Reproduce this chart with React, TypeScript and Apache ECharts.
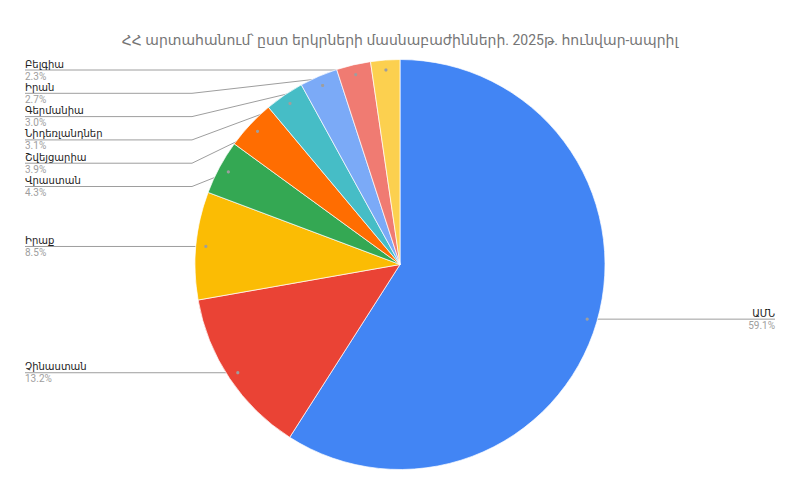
import { useEffect, useRef } from "react"
import * as echarts from "echarts"

const chartTitle = "ՀՀ արտահանում՝ ըստ երկրների մասնաբաժինների. 2025թ. հունվար-ապրիլ"
const countries = ["ԱՄՆ", "Չինաստան", "Իրաք", "Վրաստան", "Շվեյցարիա", "Նիդեռլանդներ", "Գերմանիա", "Իրան", "Բելգիա"]
const shares = [59.1, 13.2, 8.5, 4.3, 3.9, 3.1, 3.0, 2.7, 2.3]
const colors = ["#4285f4", "#ea4335", "#fbbc04", "#34a853", "#ff6d01", "#46bdc6", "#7baaf7", "#f07b72", "#fcd04f"]

const W = 800
const H = 495
const CX = 400
const CY = 264.5
const R = 205
const DOT_R = 195
const EDGE = 25
const ROW = 23.3
const FONT = "Roboto, 'Noto Sans', 'DejaVu Sans', sans-serif"

type Spot = { left: boolean; dot: number[]; y: number }

// where each slice's label goes: dot inside the slice, labels stacked per side
function labelSpots(): Spot[] {
  const total = shares.reduce((a, b) => a + b, 0)
  let acc = 0
  const spots = shares.map((v) => {
    const mid = ((acc + v / 2) / total) * Math.PI * 2
    acc += v
    const dx = Math.sin(mid)
    const dy = -Math.cos(mid)
    const dot = [CX + DOT_R * dx, CY + DOT_R * dy]
    return { left: dx < 0, dot, y: dot[1] }
  })
  for (const side of [true, false]) {
    const list = spots.filter((s) => s.left === side).sort((a, b) => a.dot[1] - b.dot[1])
    let prev = -Infinity
    for (const s of list) {
      s.y = Math.max(s.dot[1], prev + ROW)
      prev = s.y
    }
  }
  return spots
}

export default function App() {
  const hostRef = useRef<HTMLDivElement>(null)

  useEffect(() => {
    document.body.style.margin = "0"
    const el = hostRef.current
    if (!el) return
    const chart = echarts.init(el, undefined, { renderer: "svg" })
    const spots = labelSpots()

    chart.setOption({
      animation: false,
      backgroundColor: "#ffffff",
      textStyle: { fontFamily: FONT },
      title: {
        text: chartTitle,
        left: "center",
        top: 28,
        textStyle: { fontSize: 14, fontWeight: "normal", color: "#757575", fontFamily: FONT },
      },
      graphic: spots.map((s) => ({
        type: "circle",
        silent: true,
        z: 100,
        shape: { cx: s.dot[0], cy: s.dot[1], r: 1.6 },
        style: { fill: "#9e9e9e" },
      })),
      series: [
        {
          type: "pie",
          center: [CX, CY],
          radius: [0, R],
          startAngle: 90,
          clockwise: true,
          color: colors,
          itemStyle: { borderColor: "#ffffff", borderWidth: 0.7 },
          data: countries.map((name, i) => ({ name, value: shares[i] })),
          label: {
            show: true,
            position: "outside",
            formatter: (p: any) => `{n|${p.name}}\n{p|${Number(p.value).toFixed(1)}%}`,
            rich: {
              n: { fontSize: 10, color: "#222222", lineHeight: 12, fontFamily: FONT },
              p: { fontSize: 10, color: "#9e9e9e", lineHeight: 12, fontFamily: FONT },
            },
          },
          labelLine: { show: true, lineStyle: { color: "#9e9e9e", width: 1 } },
          labelLayout: (params: any) => {
            const s = spots[params.dataIndex]
            const farX = s.left ? EDGE : W - EDGE
            const bendX = s.left ? Math.min(s.dot[0], CX - R - 3) : Math.max(s.dot[0], CX + R + 3)
            return {
              x: farX,
              y: s.y,
              align: s.left ? "left" : "right",
              verticalAlign: "middle",
              labelLinePoints: [s.dot, [bendX, s.y], [farX, s.y]],
            }
          },
        },
      ],
    })

    return () => {
      chart.dispose()
    }
  }, [])

  return <div ref={hostRef} style={{ width: W, height: H }} />
}
